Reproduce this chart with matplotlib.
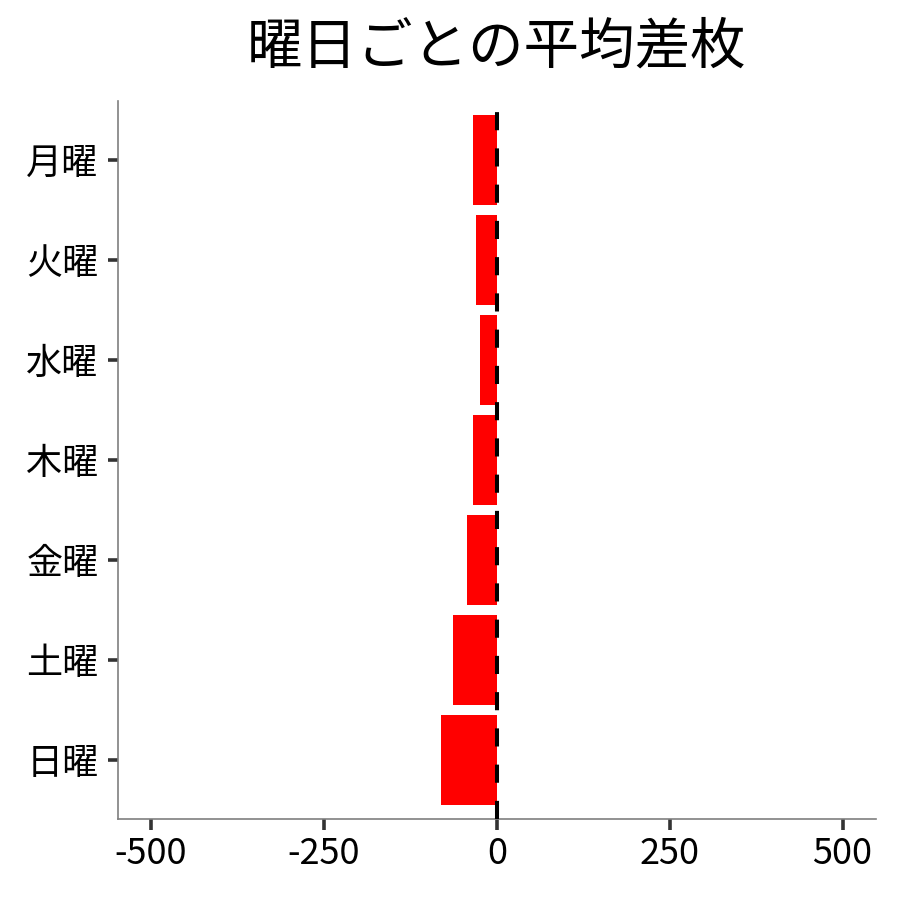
import matplotlib
matplotlib.use("Agg")
import matplotlib.pyplot as plt

plt.rcParams['font.family'] = ['Noto Sans CJK JP', 'DejaVu Sans']

days = ["月曜", "火曜", "水曜", "木曜", "金曜", "土曜", "日曜"]
values = [-34, -30, -25, -35, -43, -64, -80]
xticks = [-500, -250, 0, 250, 500]
title = "曜日ごとの平均差枚"

fig = plt.figure(figsize=(9, 9), dpi=100)
ax = fig.add_axes([0.131, 0.09, 0.842, 0.798])

ypos = list(range(len(days)))
ax.barh(ypos, values, height=0.9, color="#ff0000", zorder=2)
ax.axvline(0, color="black", lw=2.9, linestyle=(0, (4.5, 4.5)), zorder=3)

ax.set_yticks(ypos)
ax.set_yticklabels(days)
ax.set_ylim(len(days) - 1 + 0.59, -0.59)
ax.set_xlim(-548, 548)
ax.set_xticks(xticks)
ax.set_xticklabels([str(t) for t in xticks])

for s in ["top", "right"]:
    ax.spines[s].set_visible(False)
for s in ["left", "bottom"]:
    ax.spines[s].set_color("#7f7f7f")
    ax.spines[s].set_linewidth(1.2)

ax.tick_params(axis="y", length=7, width=2.6, color="#333333", pad=7, labelsize=26)
ax.tick_params(axis="x", length=8, width=2.6, color="#333333", pad=4, labelsize=26)

ax.set_title(title, fontsize=40, pad=27)

fig.savefig("out.png", dpi=100)
